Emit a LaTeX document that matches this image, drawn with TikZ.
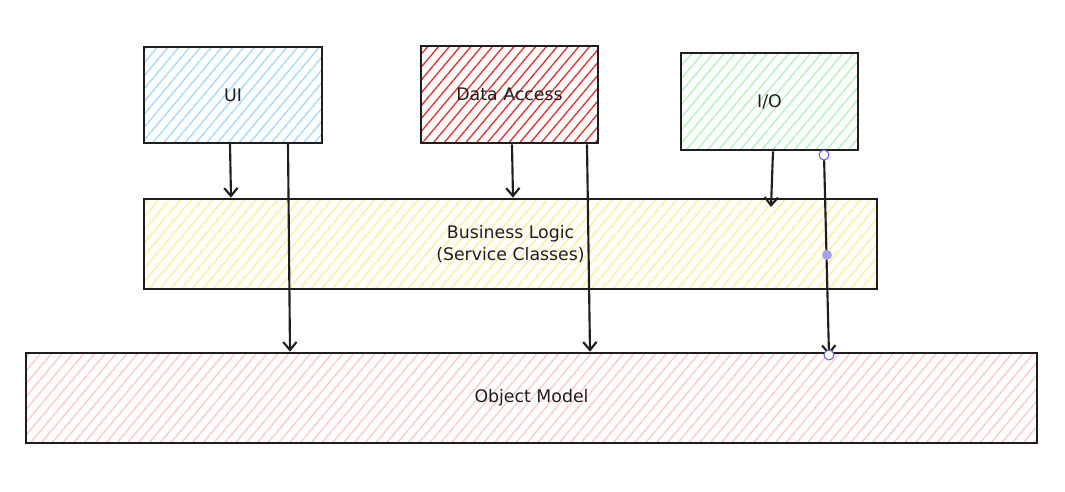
\documentclass[tikz,border=0pt]{standalone}
\usepackage{fontspec}
\setmainfont{DejaVu Sans}
\usetikzlibrary{arrows.meta,patterns.meta}
\definecolor{ink}{HTML}{1E1E1E}
\definecolor{cblue}{HTML}{A5D8FF}
\definecolor{cred}{HTML}{E03131}
\definecolor{cgreen}{HTML}{B2F2BB}
\definecolor{cyellow}{HTML}{FFEC99}
\definecolor{cpink}{HTML}{FFC9C9}
\definecolor{handle}{HTML}{6965DB}
\definecolor{handlefill}{HTML}{A9A4E8}
\tikzset{
  box/.style={draw=ink, line width=2pt, inner sep=0pt, font=\fontsize{13}{16}\selectfont, text=ink, align=center},
  hatch/.style={pattern={Lines[angle=50,distance=6.2pt,line width=1pt]}, pattern color=#1},
  arr/.style={draw=ink, line width=1.6pt, -{Straight Barb[length=6pt,width=10pt,line width=1.6pt]}},
  hopen/.style={circle, draw=handle, fill=white, line width=0.8pt, inner sep=0pt, minimum size=7.5pt},
  hdot/.style={circle, fill=handlefill, inner sep=0pt, minimum size=7.5pt},
}
\begin{document}
\begin{tikzpicture}[x=0.75pt,y=-0.75pt]
\useasboundingbox (0,0) rectangle (1065,492);
% boxes
\node[box, hatch=cblue, minimum width=133.5pt, minimum height=72pt] (ui) at (233,95) {UI};
\node[box, hatch=cred, minimum width=132.75pt, minimum height=72.75pt] (da) at (509.5,94.5) {Data Access};
\node[box, hatch=cgreen, minimum width=132.75pt, minimum height=72.75pt] (io) at (769.5,101.5) {I/O};
\node[box, hatch=cyellow, minimum width=549.75pt, minimum height=67.5pt] (bl) at (510.5,244) {Business Logic\\(Service Classes)};
\node[box, hatch=cpink, minimum width=758.25pt, minimum height=67.5pt] (om) at (531.5,398) {Object Model};
% connectors
\draw[arr] (ui.south -| 230,0) -- (bl.north -| 231,0);
\draw[arr] (ui.south -| 288,0) -- (om.north -| 290,0);
\draw[arr] (da.south -| 512,0) -- (bl.north -| 513,0);
\draw[arr] (da.south -| 587,0) -- (om.north -| 590,0);
\coordinate (ioblend) at (771,207);
\draw[arr] (io.south -| 773,0) -- (ioblend);
\coordinate (iostart) at (824,155);
\coordinate (ioend) at (829,355);
\draw[arr] (iostart) -- (ioend);
\node[hopen] (h1) at (iostart) {};
\node[hdot] (h2) at (827,255) {};
\node[hopen] (h3) at (ioend) {};
\end{tikzpicture}
\end{document}
